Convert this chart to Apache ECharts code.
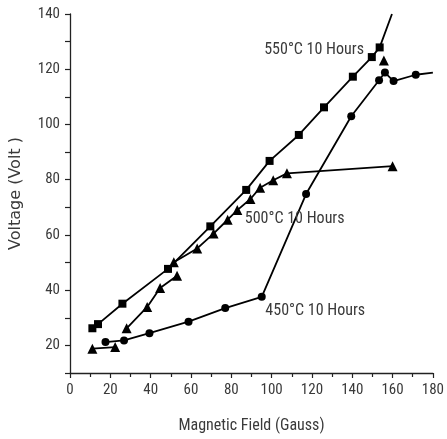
<!DOCTYPE html>
<html><head><meta charset="utf-8">
<script src="https://cdn.jsdelivr.net/npm/echarts@6/dist/echarts.min.js"></script>
<style>html,body{margin:0;padding:0;background:#fff}#c{width:447px;height:439px}</style>
</head><body><div id="c"></div>
<script>
// ---- data ----
const xTicks = [0, 20, 40, 60, 80, 100, 120, 140, 160, 180];
const yTicks = [20, 40, 60, 80, 100, 120, 140];

// 550°C 10 Hours (squares); last point is the line's extension with no marker
const s550 = [[11.1,26.2],[13.9,27.7],[26.0,35.1],[48.6,47.7],[69.6,63.1],[87.4,76.3],[99.0,86.8],[113.5,96.2],[126.0,106.2],[140.3,117.3],[149.7,124.4],[153.6,127.9]];
const s550Ext = [159.7, 140];

// 500°C 10 Hours (triangles), drawn in segments
const s500a = [[11.1,18.8],[22.4,19.4]];
const s500b = [[28.1,26.2],[38.3,33.9],[44.7,40.8],[53.1,45.2]];
const s500c = [[51.5,50.1],[63.1,55.1],[71.2,60.5],[78.2,65.5],[83.0,69.0],[89.5,73.0],[94.3,77.1],[100.8,79.8],[107.6,82.3],[160.0,84.9]];
const s500d = [[155.7,123.2]];

// 450°C 10 Hours (circles); last point is the line's extension with no marker
const s450 = [[17.6,21.2],[26.8,21.8],[39.4,24.4],[58.8,28.6],[77.0,33.5],[95.1,37.6],[117.1,74.8],[139.5,103.0],[153.3,116.0],[156.2,118.8],[160.5,115.7],[171.5,118.0]];
const s450Ext = [180, 118.8];

// label anchors [x, y] in data units
const labels = [
  {text: '550°C 10 Hours', at: [145.8, 127.1], align: 'right'},
  {text: '500°C 10 Hours', at: [86.7, 65.8], align: 'left'},
  {text: '450°C 10 Hours', at: [96.9, 32.5], align: 'left'}
];

// ---- chart ----
const chart = echarts.init(document.getElementById('c'), null, {renderer: 'canvas'});
const narrow = '"Roboto Condensed", "Liberation Sans", Arial, sans-serif';
const lineStyle = {color: '#000', width: 1.8};
const itemStyle = {color: '#000'};
function ser(data, symbol, size, showLine) {
  return {
    type: 'line', data: data, symbol: symbol, symbolSize: size,
    showSymbol: true, lineStyle: showLine === false ? {width: 0, opacity: 0} : lineStyle,
    itemStyle: itemStyle, animation: false, clip: true, z: 3,
    emphasis: {disabled: true}
  };
}
const sq = s550.map(p => p).concat([{value: s550Ext, symbol: 'none'}]);
const ci = s450.map(p => p).concat([{value: s450Ext, symbol: 'none'}]);

chart.setOption({
  animation: false,
  backgroundColor: '#fff',
  grid: {left: 62, right: 13.5, top: 14, bottom: 61, containLabel: false},
  xAxis: {
    type: 'value', min: 0, max: 180, interval: 20,
    name: 'Magnetic Field (Gauss)', nameLocation: 'middle', nameGap: 45,
    nameTextStyle: {fontFamily: narrow, fontSize: 16, color: '#3a3a3a'},
    axisLine: {show: true, onZero: false, lineStyle: {color: '#222', width: 1.3}},
    axisTick: {show: true, inside: false, length: 5, lineStyle: {color: '#222', width: 1.2}},
    minorTick: {show: true, splitNumber: 2, length: 4, lineStyle: {color: '#222', width: 1.2}},
    axisLabel: {fontFamily: narrow, fontSize: 15, color: '#3a3a3a', margin: 10,
      formatter: v => xTicks.includes(v) ? String(v) : ''},
    splitLine: {show: false}
  },
  yAxis: {
    type: 'value', min: 10, max: 140,
    name: 'Voltage (Volt )', nameLocation: 'middle', nameGap: 46,
    nameTextStyle: {fontFamily: '"DejaVu Sans", sans-serif', fontSize: 16, color: '#3a3a3a'},
    axisLine: {show: true, onZero: false, lineStyle: {color: '#222', width: 1.3}},
    axisTick: {show: true, inside: false, length: 5, lineStyle: {color: '#222', width: 1.2},
      customValues: [10,20,30,40,50,60,70,80,90,100,110,120,130,140]},
    axisLabel: {fontFamily: narrow, fontSize: 15, color: '#3a3a3a', margin: 10,
      customValues: yTicks, formatter: v => String(v)},
    splitLine: {show: false}
  },
  series: [
    ser(sq, 'rect', 8),
    ser(s500a, 'triangle', 10),
    ser(s500b, 'triangle', 10),
    ser(s500c, 'triangle', 10),
    ser(s500d, 'triangle', 10, false),
    ser(ci, 'circle', 8)
  ]
});

chart.setOption({
  graphic: labels.map(l => {
    const p = chart.convertToPixel({gridIndex: 0}, l.at);
    return {
      type: 'text', x: p[0], y: p[1], z: 10,
      style: {text: l.text, fontFamily: narrow, fontSize: 16, fill: '#3a3a3a',
        align: l.align, verticalAlign: 'middle'}
    };
  })
});
</script></body></html>
